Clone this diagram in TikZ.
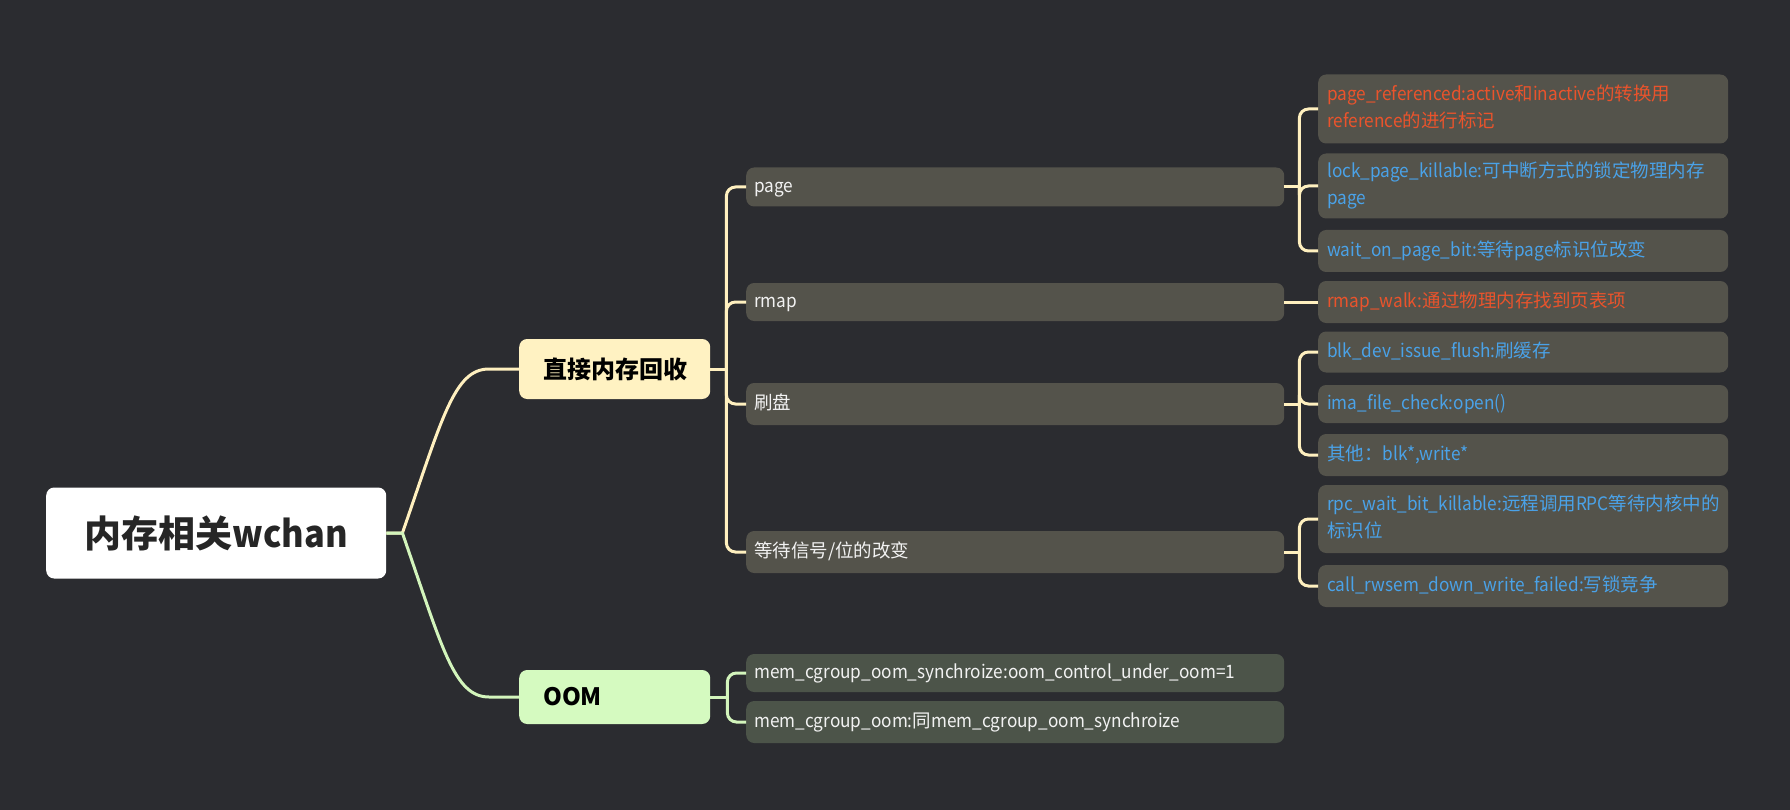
\documentclass[tikz,border=0pt]{standalone}
\usepackage{fontspec}
\setmainfont{Noto Sans CJK SC}[FakeStretch=0.93]
\newfontfamily\zh{Noto Sans CJK SC}
\newcommand\zw[1]{{\zh #1}}
\usepackage{xcolor}
\usetikzlibrary{positioning,calc}
\definecolor{bgc}{HTML}{2B2C30}
\definecolor{boxc}{HTML}{54534B}
\definecolor{oomboxc}{HTML}{4C5449}
\definecolor{zjc}{HTML}{FFF2C2}
\definecolor{oomc}{HTML}{D5FAC0}
\definecolor{ylinec}{HTML}{FFF0BF}
\definecolor{glinec}{HTML}{D3F5BC}
\definecolor{redt}{HTML}{EA532C}
\definecolor{bluet}{HTML}{4AA2E8}
\definecolor{whitet}{HTML}{F2F2F2}

\begin{document}
\begin{tikzpicture}[x=1pt, y=-1pt,
  rootbox/.style={anchor=west, fill=white, rounded corners=8pt, minimum width=340pt,
    minimum height=91pt, text=black!85, font=\fontsize{37}{40}\selectfont\bfseries},
  topbox/.style={anchor=west, rounded corners=8pt, minimum width=191pt, inner xsep=24pt,
    text width=143pt, align=left, text=black, font=\fontsize{24}{28}\selectfont\bfseries},
  midbox/.style={anchor=west, fill=boxc, rounded corners=8pt, minimum width=538pt,
    inner xsep=8pt, text width=522pt, align=left, text=whitet,
    font=\fontsize{18.5}{27}\selectfont,
    execute at begin node=\strut, execute at end node=\strut},
  leaf/.style={anchor=west, fill=boxc, rounded corners=8pt, minimum width=410pt,
    inner xsep=9pt, text width=392pt, align=left, text=bluet,
    font=\fontsize{18.5}{27}\selectfont,
    execute at begin node=\strut, execute at end node=\strut},
  yline/.style={draw=ylinec, line width=3pt},
  gline/.style={draw=glinec, line width=3pt},
  elbow/.style={rounded corners=9pt}]

% background and margins
\fill[bgc] (0,0) rectangle (1790,810);

% root and main branches
\node[rootbox] (root) at (46,533) {\zw{内存相关}wchan};
\node[topbox, fill=zjc, minimum height=60pt] (zj) at (519,369) {\zw{直接内存回收}};
\node[topbox, fill=oomc, minimum height=54pt] (oom) at (519,697) {\zw{OOM}};

% second level
\node[midbox, minimum height=39pt] (page) at (746,187) {page};
\node[midbox, minimum height=38pt] (rmap) at (746,302) {rmap};
\node[midbox, minimum height=42pt] (flush) at (746,404) {\zw{刷盘}};
\node[midbox, minimum height=42pt] (wait) at (746,552) {\zw{等待信号/位的改变}};
\node[midbox, fill=oomboxc, minimum height=38pt] (oomsync) at (746,673) {mem\_cgroup\_oom\_synchroize:oom\_control\_under\_oom=1};
\node[midbox, fill=oomboxc, minimum height=42pt] (oomcg) at (746,722) {mem\_cgroup\_oom:\zw{同}mem\_cgroup\_oom\_synchroize};

% leaves
\node[leaf, text=redt, minimum height=69pt] (pref) at (1318,109) {page\_referenced:active\zw{和}inactive\zw{的转换用}\\reference\zw{的进行标记}};
\node[leaf, minimum height=65pt] (lock) at (1318,186) {lock\_page\_killable:\zw{可中断方式的锁定物理内存}\\page};
\node[leaf, minimum height=42pt] (wopb) at (1318,251) {wait\_on\_page\_bit:\zw{等待}page\zw{标识位改变}};
\node[leaf, text=redt, minimum height=42pt] (rwalk) at (1318,302) {rmap\_walk:\zw{通过物理内存找到页表项}};
\node[leaf, minimum height=41pt] (blk) at (1318,352) {blk\_dev\_issue\_flush:\zw{刷缓存}};
\node[leaf, minimum height=38pt] (ima) at (1318,404) {ima\_file\_check:open()};
\node[leaf, minimum height=42pt] (other) at (1318,455) {\zw{其他：}blk*,write*};
\node[leaf, minimum height=68pt] (rpc) at (1318,519) {rpc\_wait\_bit\_killable:\zw{远程调用}RPC\zw{等待内核中的}\\\zw{标识位}};
\node[leaf, minimum height=42pt] (rwsem) at (1318,586) {call\_rwsem\_down\_write\_failed:\zw{写锁竞争}};

% root connectors
\draw[yline] (root.east) -- ++(16,0) .. controls +(40,-115) and +(-35,0) .. ([xshift=-30pt]zj.west) -- (zj.west);
\draw[gline] (root.east) -- ++(16,0) .. controls +(40,115) and +(-35,0) .. ([xshift=-30pt]oom.west) -- (oom.west);

% brackets
\coordinate (zjk) at ([xshift=16pt]zj.east);
\coordinate (oomk) at ([xshift=17pt]oom.east);
\coordinate (pagek) at ([xshift=15pt]page.east);
\coordinate (flushk) at ([xshift=15pt]flush.east);
\coordinate (waitk) at ([xshift=15pt]wait.east);

\draw[yline] (zj.east) -- (zjk);
\foreach \c in {page,rmap,flush,wait}
  \draw[yline, elbow] (zjk) |- (\c.west);
\draw[gline] (oom.east) -- (oomk);
\foreach \c in {oomsync,oomcg}
  \draw[gline, elbow] (oomk) |- (\c.west);

\draw[yline] (page.east) -- (pagek);
\foreach \c in {pref,lock,wopb}
  \draw[yline, elbow] (pagek) |- (\c.west);
\draw[yline] (rmap.east) -- (rwalk.west);
\draw[yline] (flush.east) -- (flushk);
\foreach \c in {blk,ima,other}
  \draw[yline, elbow] (flushk) |- (\c.west);
\draw[yline] (wait.east) -- (waitk);
\foreach \c in {rpc,rwsem}
  \draw[yline, elbow] (waitk) |- (\c.west);

\end{tikzpicture}
\end{document}
